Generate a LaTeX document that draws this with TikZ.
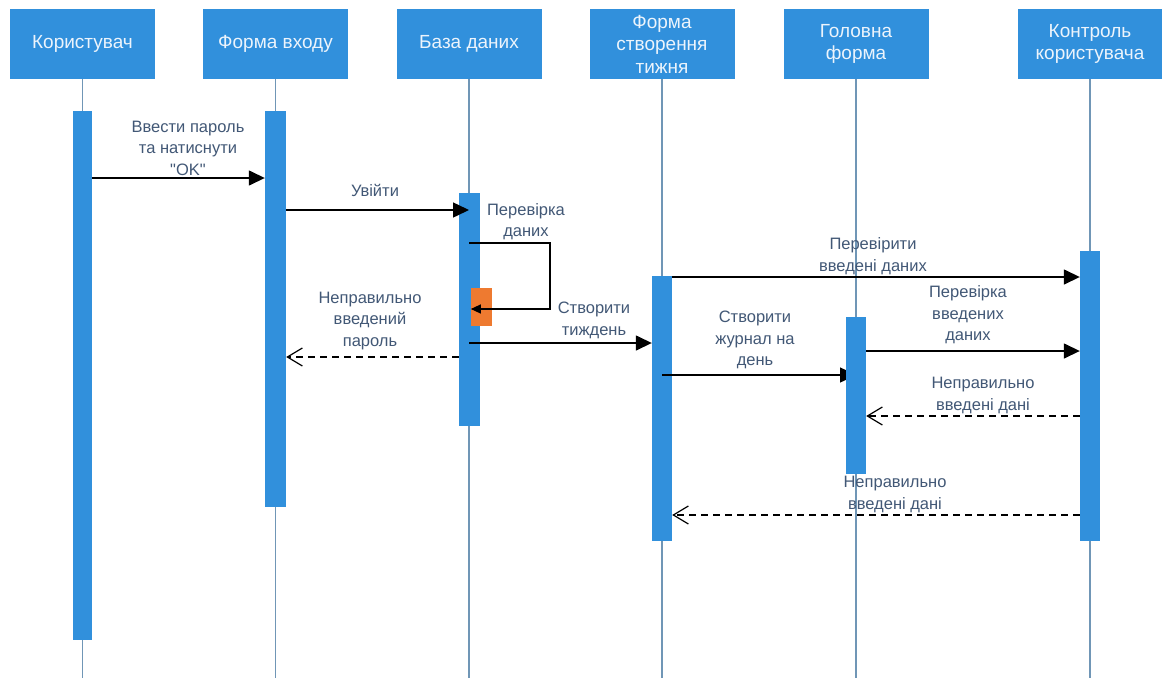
\documentclass[tikz,border=0pt]{standalone}
\usepackage{fontspec}
\setmainfont{Liberation Sans}
\newfontfamily\plainquotes{Liberation Sans}
\usetikzlibrary{arrows.meta}
\definecolor{boxblue}{RGB}{49,144,220}
\definecolor{lifelinecol}{RGB}{112,150,182}
\definecolor{labeltext}{RGB}{66,88,118}
\definecolor{headtext}{RGB}{236,244,252}
\definecolor{selforange}{RGB}{238,122,48}
\begin{document}
\begin{tikzpicture}[x=1pt,y=-1pt,
  header/.style={fill=boxblue, minimum width=145pt, minimum height=70pt, inner sep=0pt,
    align=center, text=headtext, font=\fontsize{19}{22.5}\selectfont},
  bar/.style={fill=boxblue, inner sep=0pt, minimum width=20pt},
  lifeline/.style={draw=lifelinecol, line width=1.4pt},
  msg/.style={draw=black, line width=1.5pt, -{Triangle[length=16pt,width=15pt]}},
  selfmsg/.style={draw=black, line width=1.3pt, -{Triangle[length=10pt,width=9pt]}},
  reply/.style={draw=black, line width=1.2pt, dash pattern=on 7pt off 5pt,
    -{Straight Barb[length=15pt,width=18pt]}},
  lbl/.style={text=labeltext, align=center, inner sep=0pt, font=\fontsize{16.5}{21.5}\selectfont}]
\useasboundingbox (0,0) rectangle (1162,678);
\fill[white] (0,0) rectangle (1162,678);

% participants
\node[header] (h1) at (82.5,44) {Користувач};
\node[header] (h2) at (275.5,44) {Форма входу};
\node[header] (h3) at (469,44) {База даних};
\node[header] (h4) at (662,44) {Форма\\створення\\тижня};
\node[header] (h5) at (856,44) {Головна\\форма};
\node[header] (h6) at (1090,44) {Контроль\\користувача};

% lifelines
\foreach \h in {h1,h2,h3,h4,h5,h6}
  \draw[lifeline] (\h.south) -- (\h.south |- 0,678);

% activation bars
\node[bar, minimum width=19pt, minimum height=529pt] (a1) at (82.5,375.5) {};
\node[bar, minimum width=21pt, minimum height=396pt] (a2) at (275.5,309) {};
\node[bar, minimum width=21pt, minimum height=233pt] (a3) at (469.5,309.5) {};
\node[fill=selforange, inner sep=0pt, minimum width=21pt, minimum height=38pt] (o1) at (481.5,307) {};
\node[bar, minimum height=265pt] (a4) at (662,408.5) {};
\node[bar, minimum height=290pt] (a6) at (1090,396) {};

% login
\draw[msg] (a1.east |- 0,178) -- (a2.west |- 0,178);
\node[lbl] (t1) at (188,148) {Ввести пароль\\та натиснути\\{\plainquotes"OK"}};
\draw[msg] (a2.east |- 0,210) -- (h3.south |- 0,210);
\node[lbl] (t2) at (375,190) {Увійти};
\draw[selfmsg] (h3.south |- 0,243) -- ++(81,0) |- (o1.west |- 0,309);
\node[lbl] (t3) at (526,221.5) {Перевірка\\даних};
\draw[reply] (a3.west |- 0,357) -- (a2.east |- 0,357);
\node[lbl] (t4) at (370,321) {Неправильно\\введений\\пароль};

% week creation
\draw[msg] (h3.south |- 0,343) -- (a4.west |- 0,343);
\node[lbl] (t5) at (594,320.5) {Створити\\тиждень};
\draw[msg] (a4.east |- 0,277) -- (a6.west |- 0,277);
\node[lbl] (t6) at (873,256) {Перевірити\\введені даних};
\draw[msg] (h4.south |- 0,375) -- (h5.south |- 0,375);
\node[lbl] (t7) at (755,340) {Створити\\журнал на\\день};

% main form
\node[bar, minimum height=157pt] (a5) at (856,395.5) {};
\draw[msg] (a5.east |- 0,351) -- (a6.west |- 0,351);
\node[lbl] (t8) at (968,315) {Перевірка\\введених\\даних};
\draw[reply] (a6.west |- 0,416) -- (a5.east |- 0,416);
\node[lbl] (t9) at (983,395.5) {Неправильно\\введені дані};
\draw[reply] (a6.west |- 0,515) -- (a4.east |- 0,515);
\node[lbl] (t10) at (895,494.5) {Неправильно\\введені дані};
\end{tikzpicture}
\end{document}
